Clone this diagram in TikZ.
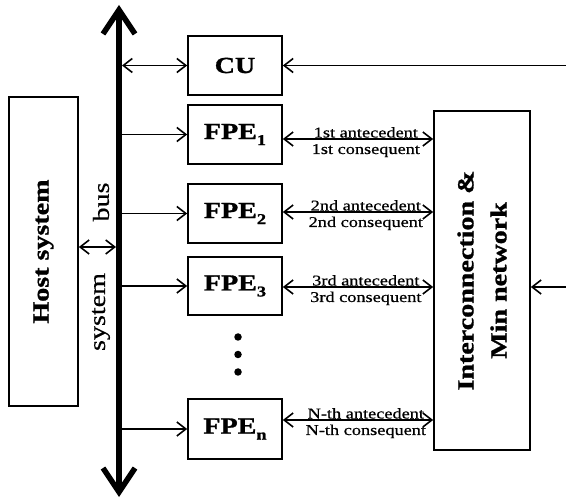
\documentclass[tikz,border=0pt]{standalone}
\usepackage{fontspec}
\setmainfont{Liberation Serif}[FakeStretch=1.22,
  UprightFeatures={FakeBold=0.6},
  BoldFeatures={FakeBold=1.2}]
\usetikzlibrary{arrows.meta,calc}
\newcommand\sbx[1]{\raisebox{-6pt}{\fontsize{15}{15}\selectfont #1}}
\begin{document}
\begin{tikzpicture}[x=1pt,y=-1pt,
  >={Straight Barb[length=9pt,width=14pt]},
  box/.style={draw,line width=1.7pt,minimum width=94pt,inner sep=0pt,
    font=\fontsize{23}{26}\selectfont\bfseries},
  bigbox/.style={draw,line width=1.7pt,inner sep=0pt},
  biglbl/.style={rotate=90,inner sep=0pt,align=center,font=\fontsize{23}{33}\selectfont\bfseries},
  buslbl/.style={rotate=90,inner sep=0pt,font=\fontsize{23}{26}\selectfont},
  lbl/.style={inner sep=0pt,font=\fontsize{15}{15}\selectfont},
  conn/.style={line width=1.6pt},
  dot/.style={circle,fill,inner sep=0pt,minimum size=7.5pt},
  bustip/.tip={Straight Barb[length=24pt,width=32pt]}
]
\useasboundingbox (0,0) rectangle (566,500);

% system bus
\coordinate (bt) at (119,5);
\coordinate (bb) at (119,497);
\draw[line width=5.5pt,bustip-bustip] (bt) -- (bb);

% host
\node[bigbox,minimum width=69pt,minimum height=309pt] (host) at (43.5,251.5) {};
\node[biglbl] (hostlbl) at (host) {Host system};
\node[buslbl] (lbus) at (101,202) {bus};
\node[buslbl] (lsys) at (101,312) {system};
\draw[conn,<->] ($(host.east)+(0,-4.5)$) coordinate (hb) -- ($(hb -| bt)+(-3,0)$);

% CU and FPEs
\node[box,minimum height=59pt] (cu) at (235,65.5) {CU};
\node[box,minimum height=59pt] (fpe1) at (235,134.5) {FPE\sbx{1}};
\node[box,minimum height=59pt] (fpe2) at (235,213.5) {FPE\sbx{2}};
\node[box,minimum height=58pt] (fpe3) at (235,286) {FPE\sbx{3}};
\node[box,minimum height=60pt] (fpen) at (235,429) {FPE\sbx{n}};

\node[dot] (d1) at (238,337) {};
\node[dot] (d2) at (238,354.5) {};
\node[dot] (d3) at (238,372) {};

\draw[conn,<->] ($(bt |- cu.west)+(3,0)$) -- (cu.west);
\draw[conn,->] ($(bt |- fpe1.west)+(3,0)$) -- (fpe1.west);
\draw[conn,->] ($(bt |- fpe2.west)+(3,0)$) -- (fpe2.west);
\draw[conn,->] ($(bt |- fpe3.west)+(3,0)$) -- (fpe3.west);
\draw[conn,->] ($(bt |- fpen.west)+(3,0)$) -- (fpen.west);

% interconnection
\node[bigbox,minimum width=96pt,minimum height=339pt] (inter) at (482,280.5) {};
\node[biglbl] (interlbl) at (inter) {Interconnection \&\\Min network};

\coordinate (rc) at (566,65.5);
\draw[conn,->] (rc) -- (cu.east);
\coordinate (ri) at (566,287);
\draw[conn,->] (ri) -- (ri -| inter.east);

% FPE <-> interconnection
\draw[conn,<->] ($(fpe1.east)+(0,4.5)$) coordinate (l1) -- (l1 -| inter.west);
\node[lbl,anchor=base] (a1) at ($(l1)+(83,-1.5)$) {1st antecedent};
\node[lbl,anchor=base] (c1) at ($(l1)+(83,15)$) {1st consequent};

\draw[conn,<->] ($(fpe2.east)+(0,-1.5)$) coordinate (l2) -- (l2 -| inter.west);
\node[lbl,anchor=base] (a2) at ($(l2)+(83,-1.5)$) {2nd antecedent};
\node[lbl,anchor=base] (c2) at ($(l2)+(83,15)$) {2nd consequent};

\draw[conn,<->] ($(fpe3.east)+(0,1)$) coordinate (l3) -- (l3 -| inter.west);
\node[lbl,anchor=base] (a3) at ($(l3)+(83,-1.5)$) {3rd antecedent};
\node[lbl,anchor=base] (c3) at ($(l3)+(83,15)$) {3rd consequent};

\draw[conn,<->] ($(fpen.east)+(0,-9)$) coordinate (l4) -- (l4 -| inter.west);
\node[lbl,anchor=base] (a4) at ($(l4)+(83,-1.5)$) {N-th antecedent};
\node[lbl,anchor=base] (c4) at ($(l4)+(83,15)$) {N-th consequent};
\end{tikzpicture}
\end{document}
